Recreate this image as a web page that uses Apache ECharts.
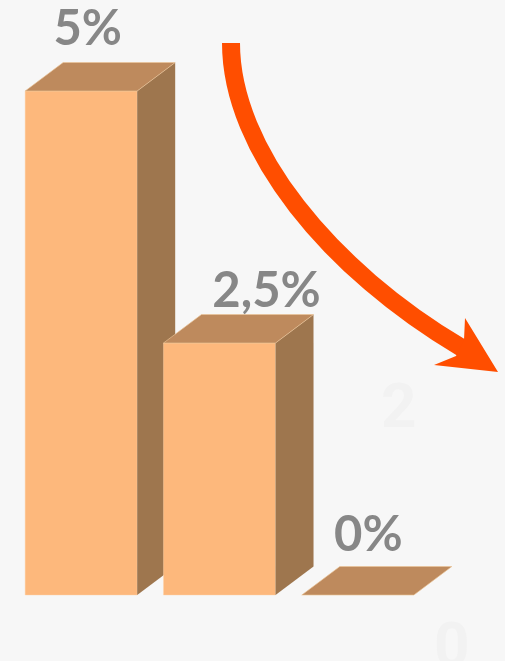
<!DOCTYPE html>
<html>
<head>
<meta charset="utf-8">
<script src="https://cdn.jsdelivr.net/npm/echarts@6/dist/echarts.min.js"></script>
<style>
html,body{margin:0;padding:0;background:#f7f7f7;}
#chart{width:505px;height:661px;}
</style>
</head>
<body>
<div id="chart"></div>
<script>
// ---- data ----
const categories = ['A', 'B', 'C'];
const values = [5, 2.5, 0];
const valueLabels = ['5%', '2,5%', '0%'];
const faintTicks = ['2', '0'];

// ---- style (not data) ----
const labelDx = [6.5, 47, 10.5];
const labelDy = [33, 23.5, 31];
const DX = 38, DY = 28.5;
const colFront = '#FDB87C';
const colTop = '#BE8A5D';
const colSide = '#9E764E';

const chart = echarts.init(document.getElementById('chart'), null, {renderer: 'canvas'});

function renderItem(params, api) {
  const i = api.value(0);
  const v = api.value(1);
  const base = api.coord([i, 0]);
  const top = api.coord([i, v]);
  const band = api.size([1, 0])[0];
  const w = band * 0.81;
  const x0 = base[0] - w / 2, x1 = base[0] + w / 2;
  const yb = base[1], yt = top[1];
  const children = [];
  if (yb - yt > 0.5) {
    children.push({
      type: 'rect',
      shape: {x: x0, y: yt, width: w, height: yb - yt},
      style: {fill: colFront, stroke: 'rgba(255,215,170,0.7)', lineWidth: 0.6}
    });
    children.push({
      type: 'polygon',
      shape: {points: [[x1, yt], [x1 + DX, yt - DY], [x1 + DX, yb - DY], [x1, yb]]},
      style: {fill: colSide}
    });
  }
  children.push({
    type: 'polygon',
    shape: {points: [[x0, yt], [x0 + DX, yt - DY], [x1 + DX, yt - DY], [x1, yt]]},
    style: {fill: colTop, stroke: 'rgba(235,195,150,0.8)', lineWidth: 0.8}
  });
  children.push({
    type: 'text',
    style: {
      text: valueLabels[params.dataIndex],
      x: base[0] + labelDx[params.dataIndex],
      y: yt - DY - labelDy[params.dataIndex],
      align: 'center',
      verticalAlign: 'middle',
      font: 'bold 49px Lato',
      fill: '#878787'
    }
  });
  return {type: 'group', children: children};
}

const option = {
  backgroundColor: '#f7f7f7',
  animation: false,
  grid: {left: 12, width: 415, top: 91, bottom: 66},
  xAxis: {type: 'category', data: categories, show: false},
  yAxis: {type: 'value', min: 0, max: 5, show: false},
  series: [{
    type: 'custom',
    renderItem: renderItem,
    data: values.map((v, i) => [i, v]),
    clip: false
  }],
  graphic: [
    {
      type: 'text', left: 381, top: 380,
      style: {text: faintTicks[0], font: 'bold 62px "Liberation Sans Narrow", "Roboto"', fill: '#f2f2f2'}
    },
    {
      type: 'text', left: 434, top: 619,
      style: {text: faintTicks[1], font: 'bold 62px "Liberation Sans Narrow", "Roboto"', fill: '#f2f2f2'}
    },
    {
      type: 'bezierCurve',
      shape: {x1: 231, y1: 43, cpx1: 231, cpy1: 150, cpx2: 330, cpy2: 270, x2: 462, y2: 348},
      style: {stroke: '#FF4E00', lineWidth: 18, fill: null, lineCap: 'butt'}
    },
    {
      type: 'polygon',
      shape: {points: [[465, 318], [498, 372], [434, 365], [456, 356], [464, 340]]},
      style: {fill: '#FF4E00'}
    }
  ]
};
chart.setOption(option);
</script>
</body>
</html>
